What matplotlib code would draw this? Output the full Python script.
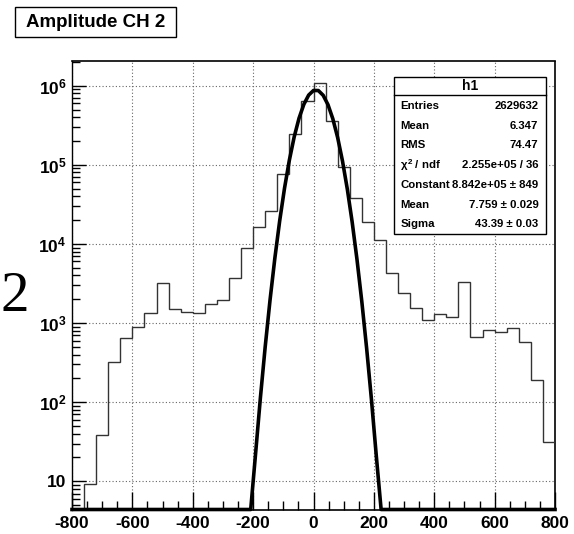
"""Amplitude CH 2 — ROOT-style log histogram with gaussian fit and stats box."""

import numpy as np
import matplotlib
matplotlib.use("Agg")
import matplotlib.pyplot as plt
from matplotlib.patches import Rectangle
from matplotlib.lines import Line2D
from matplotlib.ticker import FixedLocator, FixedFormatter, MultipleLocator, NullFormatter

# histogram: 40 bins of width 40 from -800 to 800 (counts)
BIN_EDGES = np.arange(-800, 801, 40)
COUNTS = [2, 9.2, 39, 319, 640, 896, 1321, 3208, 1484, 1384,
          1333, 1730, 1942, 3710, 8960, 16290, 26180, 77300, 244300, 641000,
          1090000, 359000, 92700, 38200, 18800, 11070, 4340, 2430, 1572, 1088,
          1283, 1186, 3300, 670, 821, 775, 862, 580, 191, 31]

# gaussian fit parameters (from the stats box)
FIT_CONST = 8.842e5
FIT_MEAN = 7.759
FIT_SIGMA = 43.39

YTICKS = [10, 1e2, 1e3, 1e4, 1e5, 1e6]
YTICK_LABELS = ["10", r"$\mathbf{10^{2}}$", r"$\mathbf{10^{3}}$",
                r"$\mathbf{10^{4}}$", r"$\mathbf{10^{5}}$", r"$\mathbf{10^{6}}$"]
XTICKS = [-800, -600, -400, -200, 0, 200, 400, 600, 800]

STATS_NAME = "h1"
STATS_ROWS = [
    ("Entries", "2629632"),
    ("Mean", "6.347"),
    ("RMS", "74.47"),
    (r"$\chi^{2}$ / ndf", "2.255e+05 / 36"),
    ("Constant", "8.842e+05 ± 849"),
    ("Mean", "7.759 ± 0.029"),
    ("Sigma", "43.39 ± 0.03"),
]
TITLE = "Amplitude CH 2"

plt.rcParams["font.family"] = ["Liberation Sans", "DejaVu Sans"]
plt.rcParams["font.weight"] = "bold"
plt.rcParams["axes.unicode_minus"] = False
plt.rcParams["mathtext.fontset"] = "custom"
plt.rcParams["mathtext.rm"] = "Liberation Sans:bold"
plt.rcParams["mathtext.bf"] = "Liberation Sans:bold"
plt.rcParams["mathtext.it"] = "Liberation Sans:bold"

W, H = 574, 534
YMIN, YMAX = 4.4, 2.07e6

fig = plt.figure(figsize=(W / 100, H / 100), dpi=100)


def px(x, y):
    return x / W, 1 - y / H


ax = fig.add_axes([72 / W, 1 - 509.5 / H, (555 - 72) / W, (509.5 - 60.7) / H])
ax.set_yscale("log")
ax.set_xlim(-800, 800)
ax.set_ylim(YMIN, YMAX)

ax.stairs(COUNTS, BIN_EDGES, color="#333333", lw=1.0, zorder=3)

xf = np.linspace(-800, 800, 101)
yf = FIT_CONST * np.exp(-0.5 * ((xf - FIT_MEAN) / FIT_SIGMA) ** 2)
ax.plot(xf, np.maximum(yf, YMIN), color="black", lw=2.6, zorder=4, clip_on=False,
        solid_joinstyle="round")

yminor = [m * 10.0 ** e for e in range(0, 7) for m in range(2, 10)]
ax.xaxis.set_major_locator(FixedLocator(XTICKS))
ax.xaxis.set_minor_locator(MultipleLocator(50))
ax.yaxis.set_major_locator(FixedLocator(YTICKS))
ax.yaxis.set_major_formatter(FixedFormatter(YTICK_LABELS))
ax.yaxis.set_minor_locator(FixedLocator(yminor))
ax.yaxis.set_minor_formatter(NullFormatter())
ax.tick_params(which="both", direction="in", top=False, right=False,
               labelsize=12.5, width=1.0, color="black")
ax.tick_params(axis="x", which="major", length=13, pad=5)
ax.tick_params(axis="x", which="minor", length=6.5)
ax.tick_params(axis="y", which="major", length=10, pad=4)
ax.tick_params(axis="y", which="minor", length=6)
for lab in ax.get_xticklabels() + ax.get_yticklabels():
    lab.set_fontweight("bold")

ax.grid(True, which="major", ls=(0, (1, 2)), color="#666666", lw=0.8)
ax.spines["top"].set_linewidth(1.2)
ax.spines["left"].set_linewidth(1.0)
ax.spines["bottom"].set_linewidth(1.2)
ax.spines["right"].set_linestyle((0, (1, 1)))
ax.spines["right"].set_linewidth(1.2)

# title box
x0, y0 = px(15, 37.3)
x1, y1 = px(176, 7.3)
fig.add_artist(Rectangle((x0, y0), x1 - x0, y1 - y0, transform=fig.transFigure,
                         facecolor="white", edgecolor="black", lw=1.0))
fig.text(*px(95.5, 22.5), TITLE, ha="center", va="center", fontsize=13.5,
         fontweight="bold")

# stats box
x0, y0 = px(394.3, 234.3)
x1, y1 = px(545.7, 77.3)
fig.add_artist(Rectangle((x0, y0), x1 - x0, y1 - y0, transform=fig.transFigure,
                         facecolor="white", edgecolor="black", lw=1.0, zorder=10))
fig.add_artist(Line2D([x0, x1], [px(0, 95.3)[1]] * 2, transform=fig.transFigure,
                      color="black", lw=1.0, zorder=11))
fig.text(*px(470, 86.5), STATS_NAME, ha="center", va="center", fontsize=10,
         fontweight="bold", zorder=12)
for i, (name, val) in enumerate(STATS_ROWS):
    yy = 106 + i * 19.7
    fig.text(*px(400.5, yy), name, ha="left", va="center", fontsize=8.2,
             fontweight="bold", zorder=12)
    fig.text(*px(538.5, yy), val, ha="right", va="center", fontsize=8.2,
             fontweight="bold", zorder=12)

# stray large serif "2" at the left edge
fig.text(*px(0.5, 297), "2", ha="left", va="center", fontsize=41,
         family="Liberation Serif", fontweight="normal")

fig.savefig("out.png", dpi=100)
